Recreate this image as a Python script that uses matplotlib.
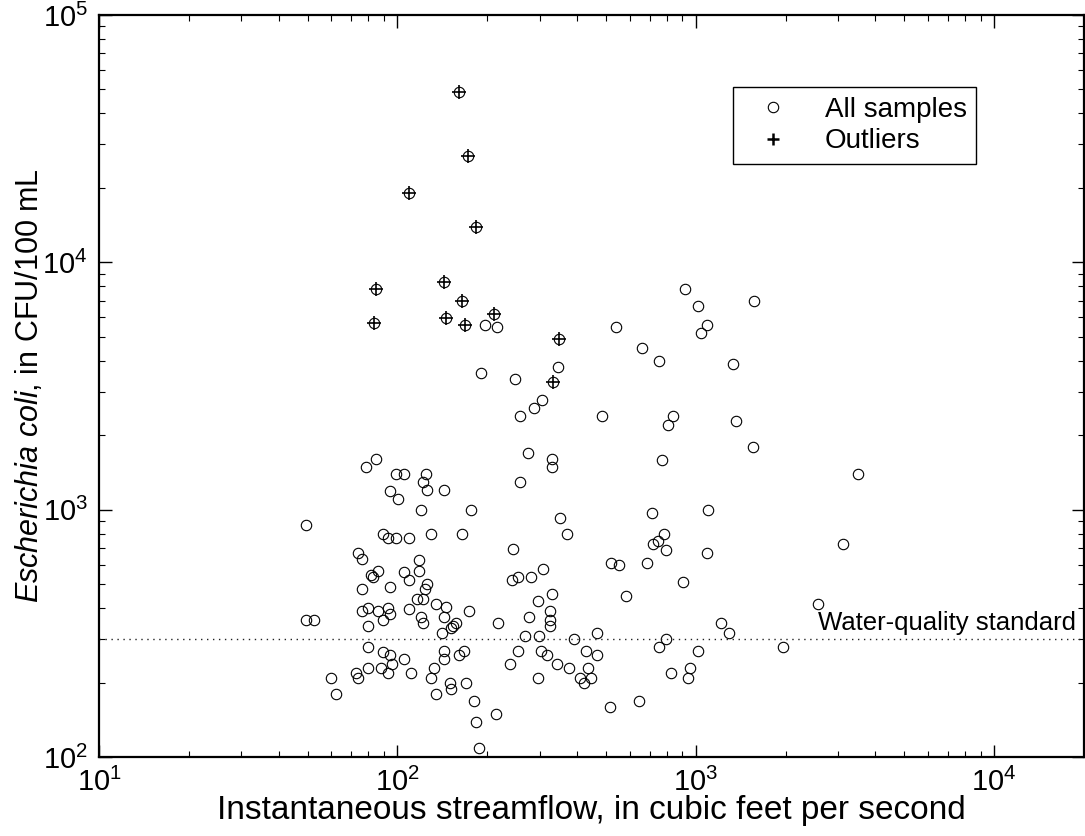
import matplotlib
matplotlib.use("Agg")
import matplotlib.pyplot as plt
from matplotlib.ticker import LogLocator, LogFormatterSciNotation, NullFormatter

plt.rcParams['font.family'] = ['Liberation Sans', 'DejaVu Sans']
plt.rcParams['mathtext.fontset'] = 'custom'
plt.rcParams['mathtext.rm'] = 'Liberation Sans'
plt.rcParams['mathtext.it'] = 'Liberation Sans:italic'
plt.rcParams['mathtext.bf'] = 'Liberation Sans:bold'

# ---- data: instantaneous streamflow (cfs) and E. coli (CFU/100 mL) ----
sample_flow = [49.4, 89.5, 93.2, 98.6, 100.6, 73.6, 76.3, 86.3, 81.6, 82.8, 76.3, 94.2,
               76.3, 79.5, 86.3, 93.2, 94.2, 89.5, 79.5, 49.4, 52.6, 79.5, 89.5, 94.2,
               96.1, 79.5, 88.1, 93.2, 72.5, 73.6, 59.7, 62.5,
               120, 177, 109, 130, 165, 351, 371, 244, 118, 105, 118, 109, 126, 124,
               116, 122, 109, 135, 145, 120, 122, 143, 174, 141, 151, 154, 157, 218,
               242, 253, 281, 307, 295, 330, 277, 325, 325, 325, 267, 299, 392, 468,
               105, 111, 143, 143, 161, 167, 133, 130, 135, 150, 151, 170, 181, 183,
               188, 214, 239, 253, 302, 317, 342, 297, 375, 428, 468, 409, 436, 422, 445,
               711, 1099, 782, 748, 720, 792, 1088, 521, 554, 688, 907, 585, 3113, 2561,
               1215, 1289, 794, 752, 1015, 1956, 827, 953, 941, 645, 515,
               197, 215, 190, 247, 345, 305, 286, 258, 484, 541, 659, 754, 921, 1015,
               1041, 836, 808, 275, 330, 330, 772, 258, 105, 125, 122, 126, 143,
               78.3, 84.6, 98.6, 94.2,
               1562, 1088, 1336, 1368, 1550, 3509]
sample_ecoli = [865, 795, 766, 766, 1102, 666, 634, 567, 546, 533, 478, 488,
                389, 400, 389, 400, 378, 358, 339, 358, 358, 279, 267, 258,
                238, 229, 229, 219, 219, 208, 208, 179,
                997, 997, 766, 795, 795, 928, 795, 696, 626, 560, 567, 518, 499, 478,
                437, 437, 398, 417, 405, 369, 349, 367, 388, 318, 331, 339, 347, 347,
                518, 536, 536, 576, 427, 456, 367, 388, 358, 339, 309, 309, 299, 318,
                248, 219, 268, 248, 259, 268, 229, 209, 179, 200, 189, 200, 169, 139,
                109, 149, 238, 268, 268, 259, 238, 209, 229, 268, 259, 209, 229, 200, 209,
                967, 997, 795, 747, 729, 687, 666, 607, 597, 607, 508, 446, 729, 417,
                347, 318, 299, 278, 268, 278, 219, 229, 209, 169, 159,
                5584, 5480, 3581, 3386, 3788, 2785, 2585, 2393, 2393, 5480, 4495, 3994, 7783, 6664,
                5195, 2393, 2200, 1696, 1599, 1493, 1593, 1294, 1395, 1395, 1294, 1198, 1198,
                1493, 1599, 1395, 1194,
                6982, 5584, 3895, 2290, 1798, 1395]

outlier_flow = [161.4, 171.9, 109.2, 182.9, 143.8, 165.1, 145.2, 168.0, 210.0, 348.8,
                332.3, 84.6, 83.5]
outlier_ecoli = [49000, 27010, 19030, 13950, 8356, 6982, 5975, 5584, 6201, 4887,
                 3275, 7783, 5689]

standard_value = 300
standard_label = "Water-quality standard"
x_label = "Instantaneous streamflow, in cubic feet per second"
y_label = r"$\it{Escherichia\ coli}$, in CFU/100 mL"
legend_labels = ["All samples", "Outliers"]

# ---- figure ----
fig = plt.figure(figsize=(10.85, 8.36), dpi=100)
ax = fig.add_axes([99 / 1085, 1 - 757 / 836, 985 / 1085, 742 / 836])

all_x = sample_flow + outlier_flow
all_y = sample_ecoli + outlier_ecoli
ax.plot(all_x, all_y, linestyle='none', marker='o', markersize=7.5,
        markerfacecolor='none', markeredgecolor='black', markeredgewidth=0.8,
        label=legend_labels[0])
ax.plot(outlier_flow, outlier_ecoli, linestyle='none', marker='+', markersize=9.5,
        markeredgecolor='black', markeredgewidth=1.2, label=legend_labels[1])

ax.set_xscale('log')
ax.set_yscale('log')
ax.set_xlim(10, 2e4)
ax.set_ylim(1e2, 1e5)

ax.axhline(standard_value, color='#222222', linestyle=(0, (1, 3.3)), linewidth=1.0)
ax.text(1.9e4 / 1.01, standard_value * 1.035, standard_label, ha='right', va='bottom',
        fontsize=18.5)

for axis in (ax.xaxis, ax.yaxis):
    axis.set_major_locator(LogLocator(base=10, numticks=10))
    axis.set_minor_locator(LogLocator(base=10, subs=range(2, 10), numticks=20))
    axis.set_minor_formatter(NullFormatter())
    axis.set_major_formatter(LogFormatterSciNotation())

ax.tick_params(which='both', direction='in', top=True, right=True, color='black')
ax.tick_params(which='major', length=9, width=1.0, labelsize=21, pad=8)
ax.tick_params(which='minor', length=4.5, width=0.8)
for sp in ax.spines.values():
    sp.set_linewidth(1.6)

ax.set_xlabel(x_label, fontsize=24, labelpad=-2)
ax.set_ylabel(y_label, fontsize=22, labelpad=-2)

leg = ax.legend(loc='upper left', bbox_to_anchor=(0.6437, 0.903), fontsize=20,
                frameon=True, fancybox=False, edgecolor='black', framealpha=1,
                borderpad=0.35, handlelength=2.2, handletextpad=0.75, labelspacing=0.2,
                borderaxespad=0)
leg.get_frame().set_linewidth(1.0)
leg.legend_handles[1].set_markeredgewidth(1.8)
leg.legend_handles[1].set_markersize(9)

fig.savefig("out.png", dpi=100)
